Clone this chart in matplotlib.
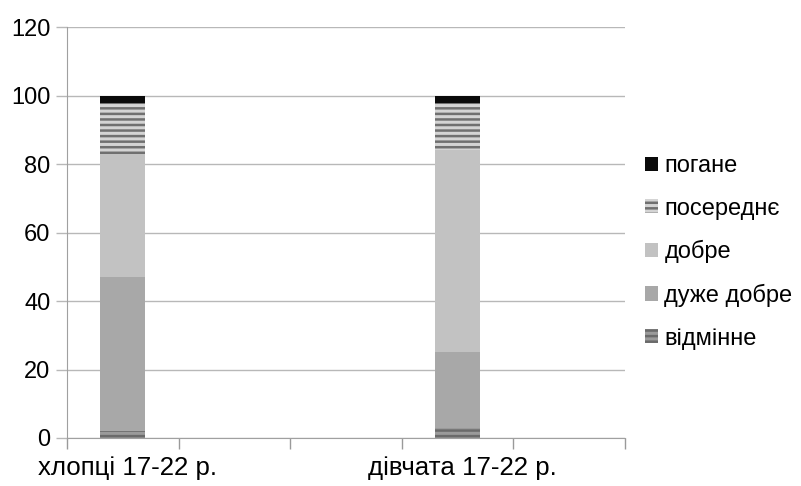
import numpy as np
import matplotlib.pyplot as plt
import matplotlib.transforms as mtransforms
from matplotlib.patches import Patch

plt.rcParams['font.family'] = ['Liberation Sans', 'DejaVu Sans']
plt.rcParams['hatch.linewidth'] = 1.8

# categories (Excel chart has five slots, only two filled)
categories = ['хлопці 17-22 р.', '', '', 'дівчата 17-22 р.', '']
series = ['відмінне', 'дуже добре', 'добре', 'посереднє', 'погане']
vidminne = [2, 0, 0, 3, 0]
duzhe_dobre = [45, 0, 0, 22, 0]
dobre = [36, 0, 0, 59, 0]
poserednie = [15, 0, 0, 14, 0]
pogane = [2, 0, 0, 2, 0]
values = [vidminne, duzhe_dobre, dobre, poserednie, pogane]

faces = ['#9a9a9a', '#a8a8a8', '#c2c2c2', '#d4d4d4', '#0a0a0a']
hatch_cols = ['#6a6a6a', '#a8a8a8', '#c2c2c2', '#707070', '#0a0a0a']
hatches = ['---', None, None, '---', None]

fig = plt.figure(figsize=(8.01, 4.86), dpi=100)
ax = fig.add_axes([0.0836, 0.0988, 0.78 - 0.0836, 0.944 - 0.0988])

x = np.arange(len(categories))
bottom = np.zeros(len(categories))
handles = []
for name, vals, fc, hc, h in zip(series, values, faces, hatch_cols, hatches):
    vals = np.array(vals, dtype=float)
    ax.bar(x, vals, 0.4, bottom=bottom, color=fc, edgecolor=hc,
           hatch=h, linewidth=0, zorder=3)
    bottom += vals
    handles.append(Patch(facecolor=fc, edgecolor=hc, hatch=h, linewidth=0))

ax.set_xlim(-0.5, len(categories) - 0.5)
ax.set_ylim(0, 120)
ax.set_yticks(range(0, 121, 20))
ax.yaxis.grid(True, color='#b8b8b8', linewidth=1)
ax.set_axisbelow(True)

ax.set_xticks(x)
ax.set_xticklabels(categories)
ax.set_xticks(np.arange(-0.5, len(categories), 1), minor=True)
ax.tick_params(axis='x', which='major', length=0, pad=13, labelsize=18.6)
ax.tick_params(axis='x', which='minor', length=8, color='#9a9a9a', width=1)
ax.tick_params(axis='y', length=8, color='#b8b8b8', width=1, pad=4,
               labelsize=17)

# labels sit a little right of the bar centres in the original
shift = mtransforms.ScaledTranslation(5 / 100, 0, fig.dpi_scale_trans)
for lab in ax.get_xticklabels():
    lab.set_transform(lab.get_transform() + shift)

for s in ['top', 'right']:
    ax.spines[s].set_visible(False)
ax.spines['left'].set_color('#a0a0a0')
ax.spines['bottom'].set_color('#a0a0a0')

ax.legend(handles[::-1], series[::-1], loc='center left',
          bbox_to_anchor=(1.0, 0.452), frameon=False, fontsize=17,
          handlelength=0.56, handleheight=0.56, handletextpad=0.27,
          labelspacing=0.87, borderaxespad=0.45)

fig.savefig('out.png', dpi=100)
